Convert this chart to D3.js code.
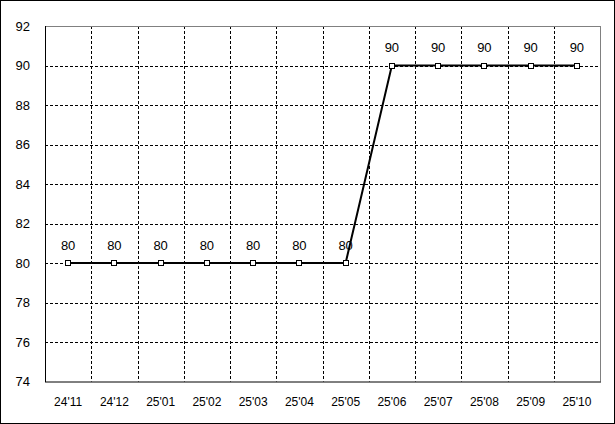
<!DOCTYPE html>
<html><head><meta charset="utf-8">
<script src="https://cdn.jsdelivr.net/npm/d3@7"></script>
<style>body{margin:0;background:#fff}svg{display:block}text{font-family:"Liberation Sans","DejaVu Sans",sans-serif}</style>
</head><body>
<script>
const categories = ["24'11","24'12","25'01","25'02","25'03","25'04","25'05","25'06","25'07","25'08","25'09","25'10"];
const values = [80,80,80,80,80,80,80,90,90,90,90,90];
const yTicks = [74,76,78,80,82,84,86,88,90,92];

const W = 615, H = 424;
const m = {left:45, top:26, right:600, bottom:381.5};
const svg = d3.select("body").append("svg").attr("width",W).attr("height",H);
svg.append("rect").attr("x",0.5).attr("y",0.5).attr("width",W-1).attr("height",H-1)
  .attr("fill","#fff").attr("stroke","#000");

const x = d3.scaleBand().domain(categories).range([m.left,m.right]);
const y = d3.scaleLinear().domain([74,92]).range([m.bottom,m.top]);

// grid
const g = svg.append("g");
g.selectAll(".hg").data(yTicks.filter(t=>t>74&&t<92)).join("line")
  .attr("x1",m.left).attr("x2",m.right)
  .attr("y1",d=>Math.round(y(d))+0.5).attr("y2",d=>Math.round(y(d))+0.5)
  .attr("stroke","#000").attr("stroke-dasharray","3,2");
g.selectAll(".vg").data(categories.slice(1)).join("line")
  .attr("x1",d=>Math.round(x(d))+0.5).attr("x2",d=>Math.round(x(d))+0.5)
  .attr("y1",m.top).attr("y2",m.bottom)
  .attr("stroke","#000").attr("stroke-dasharray","3,2");
// frame
svg.append("line").attr("x1",m.left+0.5).attr("x2",m.right).attr("y1",m.top+0.5).attr("y2",m.top+0.5).attr("stroke","#808080");
svg.append("line").attr("x1",m.right+0.5).attr("x2",m.right+0.5).attr("y1",m.top).attr("y2",m.bottom).attr("stroke","#808080");
svg.append("line").attr("x1",m.left+0.5).attr("x2",m.left+0.5).attr("y1",m.top).attr("y2",m.bottom+0.5).attr("stroke","#000");
svg.append("line").attr("x1",m.left).attr("x2",m.right+1).attr("y1",m.bottom+0.5).attr("y2",m.bottom+0.5).attr("stroke","#000");

// axes labels
svg.selectAll(".yl").data(yTicks).join("text")
  .attr("x",m.left-15).attr("y",d=>y(d)).attr("dy","0.36em")
  .attr("text-anchor","end").attr("font-size",13).text(d=>d);
svg.selectAll(".xl").data(categories).join("text")
  .attr("x",d=>x(d)+x.bandwidth()/2).attr("y",402).attr("dy","0.36em")
  .attr("text-anchor","middle").attr("font-size",12).text(d=>d);

// line
const cx = d=>x(d)+x.bandwidth()/2;
const line = d3.line().x((d,i)=>cx(categories[i])).y(d=>y(d));
svg.append("path").datum(values).attr("d",line).attr("fill","none").attr("stroke","#000").attr("stroke-width",2);
svg.selectAll(".mk").data(values).join("rect")
  .attr("x",(d,i)=>Math.round(cx(categories[i]))-2.5).attr("y",d=>Math.round(y(d))-2.5)
  .attr("width",5).attr("height",5).attr("fill","#fff").attr("stroke","#000");
svg.selectAll(".dl").data(values).join("text")
  .attr("x",(d,i)=>cx(categories[i])).attr("y",d=>y(d)-18).attr("dy","0.36em")
  .attr("text-anchor","middle").attr("font-size",13).text(d=>d);
</script>
</body></html>
